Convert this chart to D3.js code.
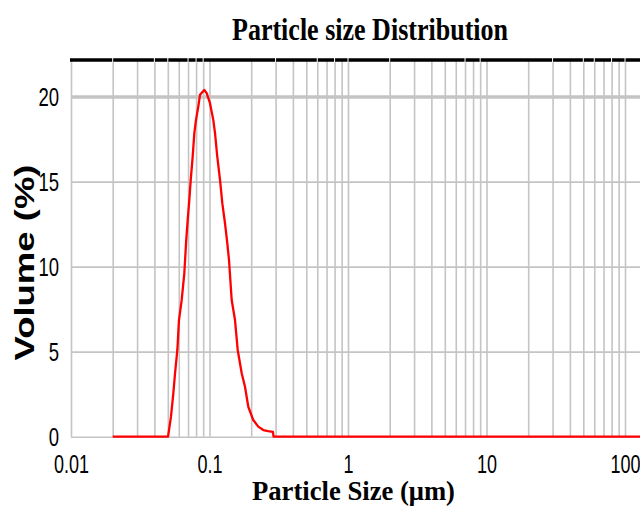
<!DOCTYPE html>
<html>
<head>
<meta charset="utf-8">
<script src="https://cdn.jsdelivr.net/npm/d3@7"></script>
<style>
  html, body { margin: 0; padding: 0; background: #fff; }
  svg { display: block; }
</style>
</head>
<body>
<svg id="chart" width="640" height="509"></svg>
<script>
// ---- data ----
const sizes = [0.02, 0.0502, 0.0527, 0.0548, 0.0564, 0.0586, 0.0602, 0.063, 0.0658, 0.0677,
  0.0696, 0.0715, 0.0732, 0.0756, 0.0777, 0.0799, 0.083, 0.0854, 0.0917, 0.0954,
  0.1008, 0.1065, 0.1096, 0.1138, 0.1191, 0.1237, 0.1294, 0.1344, 0.1383, 0.1446,
  0.1528, 0.1598, 0.1708, 0.1804, 0.1906, 0.207, 0.225, 0.2445, 0.265, 0.287, 0.29, 1000];
const volume = [0, 0, 1.18, 2.55, 3.73, 5.1, 6.86, 8.04, 9.61, 11.38,
  12.75, 13.92, 15.1, 16.47, 17.85, 18.63, 19.41, 20.1, 20.39, 20.2,
  19.61, 18.63, 17.85, 16.47, 15.1, 13.73, 12.55, 11.38, 10.39, 8.04,
  6.86, 5.1, 3.73, 2.94, 1.76, 0.98, 0.59, 0.39, 0.33, 0.28, 0, 0];
const xTickValues = [0.01, 0.1, 1, 10, 100, 1000];
const xTickLabels = ["0.01", "0.1", "1", "10", "100", "1000"];
const yTickValues = [0, 5, 10, 15, 20];
const yTickLabels = ["0", "5", "10", "15", "20"];
const topGapTicks = [0.02, 0.04, 0.05, 0.07, 0.08, 0.09, 0.3, 0.6, 0.8, 1, 2, 7, 9, 30, 50, 60, 80, 100];
const chartTitle = "Particle size Distribution";
const xTitle = "Particle Size (μm)";
const yTitle = "Volume (%)";

// ---- layout ----
const svg = d3.select("#chart");
const pLeft = 71, decade = 138.5, pBottom = 436.7, pTop = 60, pRight = 640;
const x = d3.scaleLog().domain([0.01, 1000]).range([pLeft, pLeft + 5 * decade]);
const y = d3.scaleLinear().domain([0, 22.15]).range([pBottom, pTop]);
const grey = "#c4c4c4";

function condense(sel, f) {
  sel.each(function () {
    const n = this.getComputedTextLength();
    d3.select(this).attr("textLength", n * f).attr("lengthAdjust", "spacingAndGlyphs");
  });
}

// vertical grid
const vGrid = svg.append("g").attr("transform", `translate(0,${pBottom})`)
  .call(d3.axisBottom(x).tickValues(x.ticks()).tickSize(-(pBottom - pTop)).tickFormat(""));
vGrid.select(".domain").remove();
vGrid.selectAll(".tick line").attr("stroke", grey).attr("stroke-width", 1.6);

// horizontal grid
const hGrid = svg.append("g").attr("transform", `translate(${pLeft},0)`)
  .call(d3.axisLeft(y).tickValues(yTickValues).tickSize(-(pRight - pLeft)).tickFormat(""));
hGrid.select(".domain").remove();
hGrid.selectAll(".tick line").attr("stroke", grey)
  .attr("stroke-width", d => d === 20 ? 3.6 : 1.6);

// top black border with small gaps
svg.append("line").attr("x1", pLeft - 1).attr("x2", pRight).attr("y1", pTop).attr("y2", pTop)
  .attr("stroke", "#000").attr("stroke-width", 3.6);
svg.append("g").selectAll("line").data(topGapTicks).join("line")
  .attr("x1", d => x(d)).attr("x2", d => x(d))
  .attr("y1", pTop - 2.5).attr("y2", pTop + 2.5)
  .attr("stroke", "#fff").attr("stroke-width", 1);

// curve
const pts = sizes.map((s, i) => [s, volume[i]]);
svg.append("path").datum(pts)
  .attr("fill", "none").attr("stroke", "#ff0000").attr("stroke-width", 2.3)
  .attr("stroke-linejoin", "round")
  .attr("d", d3.line().x(d => x(d[0])).y(d => y(d[1])));

// y axis labels
const yAxis = svg.append("g").attr("transform", `translate(${pLeft},0)`)
  .call(d3.axisLeft(y).tickValues(yTickValues).tickFormat((d, i) => yTickLabels[i]).tickSize(0).tickPadding(12));
yAxis.select(".domain").remove();
yAxis.selectAll("text").attr("font-family", "Liberation Sans, Arial, sans-serif")
  .attr("font-size", 25).attr("fill", "#000").attr("dy", "0.36em");
condense(yAxis.selectAll("text"), 0.74);

// x axis labels
const xAxis = svg.append("g").attr("transform", `translate(0,${pBottom})`)
  .call(d3.axisBottom(x).tickValues(xTickValues).tickFormat((d, i) => xTickLabels[i]).tickSize(0));
xAxis.select(".domain").remove();
xAxis.selectAll("text").attr("font-family", "Liberation Sans, Arial, sans-serif")
  .attr("font-size", 25).attr("fill", "#000").attr("y", 36).attr("dy", 0);
condense(xAxis.selectAll("text"), 0.72);

// titles
svg.append("text").attr("x", 370).attr("y", 40).attr("text-anchor", "middle")
  .attr("font-family", "Liberation Serif, Times New Roman, serif").attr("font-weight", "bold")
  .attr("font-size", 32).attr("textLength", 276).attr("lengthAdjust", "spacingAndGlyphs")
  .text(chartTitle);
svg.append("text").attr("x", 353.5).attr("y", 500).attr("text-anchor", "middle")
  .attr("font-family", "Liberation Serif, Times New Roman, serif").attr("font-weight", "bold")
  .attr("font-size", 27).attr("textLength", 203).attr("lengthAdjust", "spacingAndGlyphs")
  .text(xTitle);
svg.append("text").attr("transform", "translate(34,262.5) rotate(-90)").attr("text-anchor", "middle")
  .attr("font-family", "Liberation Sans, Arial, sans-serif").attr("font-weight", "bold")
  .attr("font-size", 28).attr("textLength", 196).attr("lengthAdjust", "spacingAndGlyphs")
  .text(yTitle);
</script>
</body>
</html>
